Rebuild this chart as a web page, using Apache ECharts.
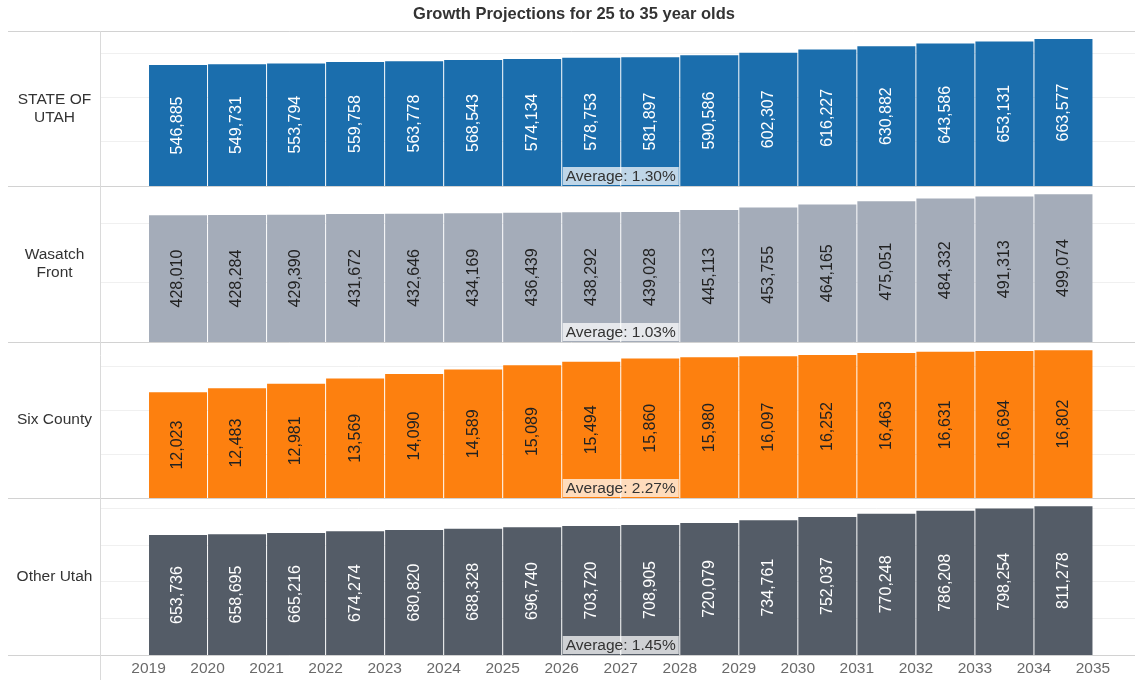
<!DOCTYPE html>
<html>
<head>
<meta charset="utf-8">
<script src="https://cdn.jsdelivr.net/npm/echarts@6/dist/echarts.min.js"></script>
<style>
  html, body { margin: 0; padding: 0; background: #ffffff; }
  #chart { width: 1135px; height: 680px; }
</style>
</head>
<body>
<div id="chart"></div>
<script>
// Population aged 25 to 35, projected by year and region
const chartTitle = 'Growth Projections for 25 to 35 year olds';
const regions = ['STATE OF\nUTAH', 'Wasatch\nFront', 'Six County', 'Other Utah'];
const barYears = [2019, 2020, 2021, 2022, 2023, 2024, 2025, 2026, 2027, 2028, 2029, 2030, 2031, 2032, 2033, 2034];
const tickYears = [2019, 2020, 2021, 2022, 2023, 2024, 2025, 2026, 2027, 2028, 2029, 2030, 2031, 2032, 2033, 2034, 2035];
const stateOfUtah = [546885, 549731, 553794, 559758, 563778, 568543, 574134, 578753, 581897, 590586, 602307, 616227, 630882, 643586, 653131, 663577];
const wasatchFront = [428010, 428284, 429390, 431672, 432646, 434169, 436439, 438292, 439028, 445113, 453755, 464165, 475051, 484332, 491313, 499074];
const sixCounty = [12023, 12483, 12981, 13569, 14090, 14589, 15089, 15494, 15860, 15980, 16097, 16252, 16463, 16631, 16694, 16802];
const otherUtah = [653736, 658695, 665216, 674274, 680820, 688328, 696740, 703720, 708905, 720079, 734761, 752037, 770248, 786208, 798254, 811278];
const averageGrowth = [1.30, 1.03, 2.27, 1.45];

// Presentation settings
const panelValues = [stateOfUtah, wasatchFront, sixCounty, otherUtah];
const barColors = ['#1b6ead', '#a4acb9', '#fd800f', '#545c67'];
const valueColors = ['#ffffff', '#222222', '#222222', '#ffffff'];
const gridSteps = [200000, 200000, 5000, 200000];
const rowTops = [31, 186, 342, 498];
const rowHeights = [155, 156, 156, 157];
const plotLeft = 100;
const xMin = 2018.178, xMax = 2035.712;
const fontFamily = '"Liberation Sans", Arial, sans-serif';

const chart = echarts.init(document.getElementById('chart'), null, { renderer: 'canvas' });

function barRenderer(fill, textFill) {
  return function (params, api) {
    const year = api.value(0);
    const v = api.value(1);
    const top = api.coord([year, v]);
    const base = api.coord([year + 1, 0]);
    const x = top[0] + 0.5;
    const w = base[0] - top[0] - 1;
    return {
      type: 'group',
      children: [
        { type: 'rect', shape: { x: x, y: top[1], width: w, height: base[1] - top[1] }, style: { fill: fill } },
        {
          type: 'text', x: x + w / 2, y: (top[1] + base[1]) / 2, rotation: Math.PI / 2,
          style: {
            text: v.toLocaleString('en-US'), fill: textFill,
            font: '16px ' + fontFamily, align: 'center', verticalAlign: 'middle'
          }
        }
      ]
    };
  };
}

function averageRenderer(pct) {
  return function (params, api) {
    const p = api.coord([api.value(0), 0]);
    return {
      type: 'text', x: p[0], y: p[1] - 1, z2: 10,
      style: {
        text: 'Average: ' + pct.toFixed(2) + '%', fill: '#333333',
        font: '15.5px ' + fontFamily, align: 'center', verticalAlign: 'bottom',
        backgroundColor: 'rgba(255,255,255,0.72)', padding: [1, 3, 0, 3], lineHeight: 17
      }
    };
  };
}

const grids = [], xAxes = [], yAxes = [], series = [];
const midYear = (tickYears[0] + tickYears[tickYears.length - 1]) / 2;

panelValues.forEach(function (vals, i) {
  const isLast = i === panelValues.length - 1;
  grids.push({ left: plotLeft, right: 0, top: rowTops[i], height: rowHeights[i] });
  xAxes.push({
    type: 'value', gridIndex: i, min: xMin, max: xMax,
    axisLine: { show: false }, axisTick: { show: false }, splitLine: { show: false },
    axisLabel: {
      show: isLast, customValues: tickYears, color: '#6a6a6a',
      fontFamily: fontFamily, fontSize: 15.5, margin: 6,
      formatter: function (v) { return String(Math.round(v)); }
    }
  });
  yAxes.push({
    type: 'value', gridIndex: i, min: 0, max: Math.max.apply(null, vals) * 1.055,
    interval: gridSteps[i],
    axisLine: { show: false }, axisTick: { show: false }, axisLabel: { show: false },
    splitLine: { show: true, lineStyle: { color: '#f0f0f0', width: 1 } }
  });
  series.push({
    type: 'custom', xAxisIndex: i, yAxisIndex: i, z: 2,
    renderItem: barRenderer(barColors[i], valueColors[i]),
    data: barYears.map(function (y, k) { return [y, vals[k]]; })
  });
  series.push({
    type: 'custom', xAxisIndex: i, yAxisIndex: i, z: 5,
    renderItem: averageRenderer(averageGrowth[i]),
    data: [[midYear, 0]]
  });
});

// Frame lines and row headers
const graphics = [];
const separatorYs = rowTops.concat([rowTops[3] + rowHeights[3]]);
separatorYs.forEach(function (y) {
  graphics.push({
    type: 'line', z: 1, shape: { x1: 8, y1: y + 0.5, x2: 1135, y2: y + 0.5 },
    style: { stroke: '#d2d2d2', lineWidth: 1 }
  });
});
graphics.push({
  type: 'line', z: 1, shape: { x1: plotLeft + 0.5, y1: 31, x2: plotLeft + 0.5, y2: 680 },
  style: { stroke: '#dadada', lineWidth: 1 }
});
regions.forEach(function (name, i) {
  graphics.push({
    type: 'text', z: 3, x: 54.5, y: rowTops[i] + rowHeights[i] / 2,
    style: {
      text: name, fill: '#333333', font: '15.5px ' + fontFamily,
      align: 'center', verticalAlign: 'middle', lineHeight: 18
    }
  });
});
graphics.push({
  type: 'text', z: 3, x: 574, y: 14,
  style: {
    text: chartTitle, fill: '#333333', font: 'bold 16.5px ' + fontFamily,
    align: 'center', verticalAlign: 'middle'
  }
});

chart.setOption({
  animation: false,
  backgroundColor: '#ffffff',
  grid: grids,
  xAxis: xAxes,
  yAxis: yAxes,
  series: series,
  graphic: graphics
});
</script>
</body>
</html>
